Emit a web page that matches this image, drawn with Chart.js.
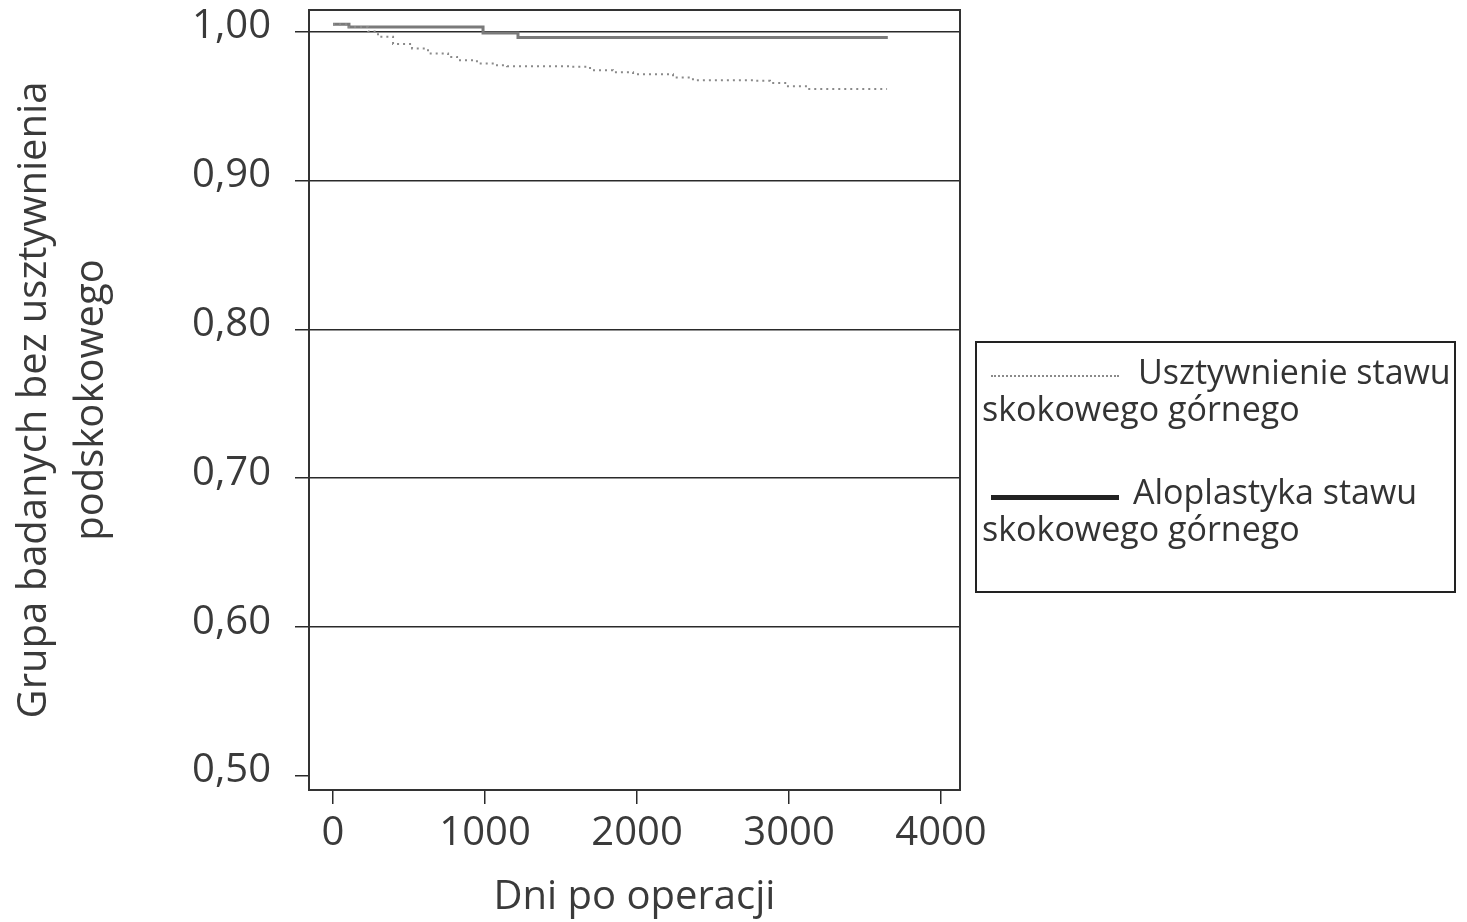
<!DOCTYPE html>
<html>
<head>
<meta charset="utf-8">
<script src="https://cdn.jsdelivr.net/npm/chart.js@4"></script>
<style>
  body { margin: 0; background: #fff; }
  #wrap { position: relative; width: 1467px; height: 922px; }
  #legend { position: absolute; left: 975px; top: 341px; width: 477px; height: 248px;
            border: 2px solid #222; font-family: "Open Sans", sans-serif; font-size: 34px; color: #333; }
  #legend span { position: absolute; white-space: nowrap; line-height: 37px; }
  #legend .sample { position: absolute; width: 128px; }
</style>
</head>
<body>
<div id="wrap">
  <canvas id="km" width="1467" height="922"></canvas>
  <div id="legend"></div>
</div>
<script>
// ============================================
// DATA
// ============================================
const xTicks = [0, 1000, 2000, 3000, 4000];
const xTickLabels = ['0', '1000', '2000', '3000', '4000'];
const yTicks = [0.5, 0.6, 0.7, 0.8, 0.9, 1.0];
const yTickLabels = ['0,50', '0,60', '0,70', '0,80', '0,90', '1,00'];

// Usztywnienie stawu skokowego górnego (dotted)
const fusionDays = [0, 105, 200, 230, 296, 395, 520, 625, 757, 816, 947, 1079, 1145, 1559, 1691, 1842, 1974, 2237, 2368, 2763, 2875, 2993, 3125, 3645];
const fusionSurv = [1.005, 1.003, 1.003, 1.000, 0.9965, 0.9916, 0.9887, 0.9853, 0.983, 0.9808, 0.9786, 0.9774, 0.9768, 0.9763, 0.9741, 0.9727, 0.9714, 0.9692, 0.9673, 0.9669, 0.9655, 0.9633, 0.9615, 0.9615];

// Aloplastyka stawu skokowego górnego (solid)
const tarDays = [0, 105, 987, 1217, 3650];
const tarSurv = [1.005, 1.003, 0.999, 0.996, 0.996];

const legendItems = [
    { first: 'Usztywnienie stawu', second: 'skokowego górnego', dash: true },
    { first: 'Aloplastyka stawu', second: 'skokowego górnego', dash: false }
];

const FONT = '"Open Sans", sans-serif';
const INK = '#2a2a2a';

// ============================================
// PLOT BOX (top + right edges too)
// ============================================
const boxPlugin = {
    id: 'box',
    afterDraw(chart) {
        const { ctx, chartArea: a } = chart;
        ctx.save();
        ctx.strokeStyle = '#333';
        ctx.lineWidth = 2;
        ctx.strokeRect(a.left, a.top, a.right - a.left, a.bottom - a.top);
        ctx.restore();
    }
};

new Chart(document.getElementById('km'), {
    type: 'line',
    data: {
        datasets: [
            {
                label: legendItems[0].first,
                data: fusionDays.map((d, i) => ({ x: d, y: fusionSurv[i] })),
                borderColor: '#8a8a8a',
                borderWidth: 2,
                borderDash: [2, 4],
                stepped: true,
                pointRadius: 0,
                fill: false
            },
            {
                label: legendItems[1].first,
                data: tarDays.map((d, i) => ({ x: d, y: tarSurv[i] })),
                borderColor: '#7a7a7a',
                borderWidth: 3,
                stepped: true,
                pointRadius: 0,
                fill: false
            }
        ]
    },
    options: {
        responsive: false,
        animation: false,
        layout: { padding: { left: 0, top: 10, right: 507, bottom: 0 } },
        plugins: { legend: { display: false }, tooltip: { enabled: false } },
        scales: {
            x: {
                type: 'linear',
                min: -158,
                max: 4125,
                afterBuildTicks: (s) => { s.ticks = xTicks.map(v => ({ value: v })); },
                afterFit: (s) => { s.height = 132; s.paddingLeft = 0; s.paddingRight = 0; },
                border: { display: false },
                grid: { drawOnChartArea: false, drawTicks: true, tickLength: 14, color: INK, lineWidth: 1.5 },
                ticks: {
                    color: '#3a3a3a',
                    font: { family: FONT, size: 40 },
                    padding: 6,
                    callback: (v) => xTickLabels[xTicks.indexOf(v)]
                },
                title: {
                    display: true,
                    text: 'Dni po operacji',
                    color: '#3a3a3a',
                    font: { family: FONT, size: 40 },
                    padding: { top: 0, bottom: 0 }
                }
            },
            y: {
                type: 'linear',
                min: 0.4906,
                max: 1.0145,
                afterBuildTicks: (s) => { s.ticks = yTicks.map(v => ({ value: v })); },
                afterFit: (s) => { s.width = 309; s.paddingTop = 0; s.paddingBottom = 0; },
                border: { display: false },
                grid: {
                    color: (c) => (c.tick && c.tick.value === 0.5 ? 'rgba(0,0,0,0)' : INK),
                    tickColor: INK,
                    lineWidth: 1.5,
                    tickLength: 14
                },
                ticks: {
                    color: '#3a3a3a',
                    font: { family: FONT, size: 40 },
                    padding: 24,
                    labelOffset: -5,
                    callback: (v) => yTickLabels[yTicks.indexOf(v)]
                },
                title: {
                    display: true,
                    text: ['Grupa badanych bez usztywnienia', 'podskokowego'],
                    color: '#3a3a3a',
                    font: { family: FONT, size: 40, lineHeight: 1.42 },
                    padding: { top: 6, bottom: 0 }
                }
            }
        }
    },
    plugins: [boxPlugin]
});

// ============================================
// LEGEND (HTML)
// ============================================
const legend = document.getElementById('legend');
const rowTops = [10, 130];
legendItems.forEach((item, i) => {
    const top = rowTops[i];
    const sample = document.createElement('div');
    sample.className = 'sample';
    sample.style.left = '14px';
    sample.style.top = (top + 22) + 'px';
    sample.style.borderTop = item.dash ? '2px dotted #8a8a8a' : '5px solid #222';
    legend.appendChild(sample);

    const first = document.createElement('span');
    first.textContent = item.first;
    first.style.left = (item.dash ? 161 : 156) + 'px';
    first.style.top = top + 'px';
    legend.appendChild(first);

    const second = document.createElement('span');
    second.textContent = item.second;
    second.style.left = '5px';
    second.style.top = (top + 37) + 'px';
    legend.appendChild(second);
});
</script>
</body>
</html>
